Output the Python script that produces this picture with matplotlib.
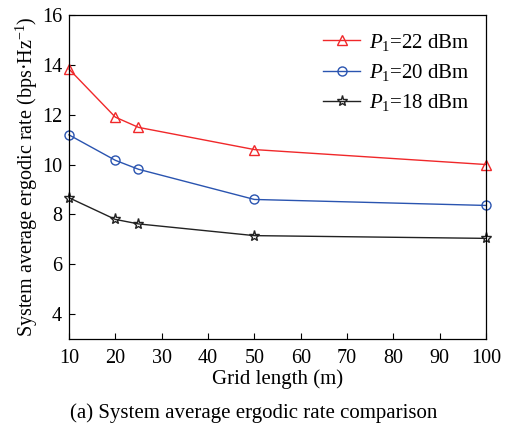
import numpy as np
import matplotlib
matplotlib.use('Agg')
import matplotlib.pyplot as plt

plt.rcParams['font.family'] = 'Liberation Serif'
plt.rcParams['mathtext.fontset'] = 'custom'
plt.rcParams['mathtext.rm'] = 'Liberation Serif'
plt.rcParams['mathtext.it'] = 'Liberation Serif:italic'

# グリッド長 (m) と各送信電力でのエルゴードレート
grid_len = [10, 20, 25, 50, 100]
rate_22 = [13.83, 11.90, 11.49, 10.60, 10.00]
rate_20 = [11.19, 10.17, 9.81, 8.60, 8.36]
rate_18 = [8.67, 7.80, 7.62, 7.15, 7.04]

fig = plt.figure(figsize=(5.07, 4.25), dpi=100)
ax = fig.add_axes([0.136, 0.202, 0.823, 0.763])

ax.plot(grid_len, rate_22, color='#f0282a', lw=1.0, marker='^', ms=7,
        mfc='none', mew=1.0, label='$P_1$=22 dBm', clip_on=False)
ax.plot(grid_len, rate_20, color='#2a54b0', lw=1.0, marker='o', ms=6.5,
        mfc='none', mew=1.0, label='$P_1$=20 dBm', clip_on=False)
ax.plot(grid_len, rate_18, color='#222222', lw=1.0, marker='*', ms=8,
        mfc='none', mew=1.0, label='$P_1$=18 dBm', clip_on=False)

ax.set_xlim(10, 100)
ax.set_ylim(3, 16)
ax.set_xticks(np.arange(10, 101, 10))
ax.set_yticks([4, 6, 8, 10, 12, 14, 16])
ax.tick_params(direction='in', labelsize=14.5, length=4, width=0.8, top=False, right=False)
ax.tick_params(axis='x', pad=7)
ax.tick_params(axis='y', pad=5)
for s in ax.spines.values():
    s.set_linewidth(0.9)

ax.set_xlabel('Grid length (m)', fontsize=15, labelpad=1)
ax.set_ylabel('System average ergodic rate (bps·Hz$^{-1}$)', fontsize=14.5, labelpad=1)

ax.legend(loc='upper right', frameon=False, fontsize=15, handlelength=1.8,
          handletextpad=0.4, labelspacing=0.45, borderaxespad=0.4)

fig.text(0.5, 0.028, '(a) System average ergodic rate comparison', ha='center',
         va='center', fontsize=15)

fig.savefig('out.png', dpi=100)
